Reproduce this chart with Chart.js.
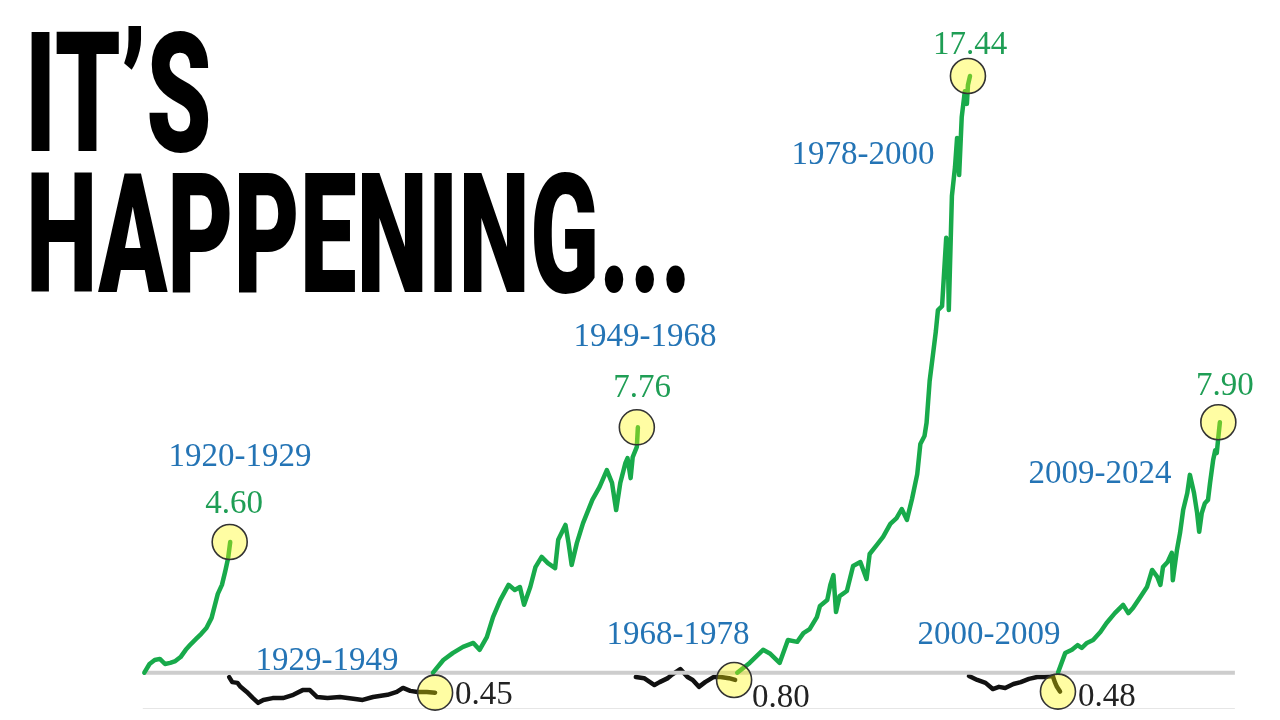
<!DOCTYPE html>
<html><head><meta charset="utf-8">
<script src="https://cdn.jsdelivr.net/npm/chart.js@4.4.1/dist/chart.umd.min.js"></script>
<style>html,body{margin:0;padding:0;background:#fff;}#wrap{width:1280px;height:720px;position:relative;}</style>
</head><body><div id="wrap"><canvas id="c" width="1280" height="720"></canvas></div>
<script>
// ---------- DATA ----------
const titleLines = ["IT\u2019S", "HAPPENING..."];

// 1920-1929 (bull, green)
const bull1Years  = [1920.5,1921.0,1921.5,1922.0,1922.5,1923.0,1923.5,1924.0,1924.5,1925.0,1925.5,1926.0,1926.5,1927.0,1927.3,1927.6,1928.0,1928.3,1928.6,1928.8];
const bull1Values = [1.00,1.24,1.35,1.38,1.24,1.27,1.32,1.43,1.63,1.79,1.93,2.07,2.23,2.51,2.84,3.17,3.42,3.77,4.16,4.60];
// 1929-1949 (bear, black)
const bear1Years  = [1928.7,1929.0,1929.5,1929.8,1930.4,1931.0,1931.5,1932.0,1932.9,1933.9,1934.9,1935.8,1936.5,1937.2,1938.2,1939.4,1940.7,1941.6,1942.6,1944.0,1944.9,1945.5,1946.2,1946.9,1947.8,1948.6];
const bear1Values = [0.88,0.74,0.72,0.61,0.47,0.30,0.17,0.25,0.30,0.30,0.39,0.52,0.52,0.33,0.30,0.33,0.28,0.25,0.33,0.39,0.47,0.58,0.50,0.47,0.47,0.45];
// 1949-1968 (bull, green)
const bull2Years  = [1948.4,1949.4,1950.3,1951.3,1952.3,1952.9,1953.6,1954.2,1954.9,1955.7,1956.3,1956.8,1957.2,1957.8,1958.3,1958.9,1959.5,1960.2,1960.5,1961.2,1961.5,1961.8,1962.3,1962.9,1963.8,1964.5,1965.2,1965.7,1966.1,1966.5,1967.0,1967.2,1967.5,1967.7,1968.1,1968.2];
const bull2Values = [1.00,1.35,1.54,1.71,1.82,1.63,1.98,2.53,3.00,3.42,3.28,3.36,2.87,3.36,3.91,4.19,4.02,3.88,4.66,5.07,4.57,3.97,4.57,5.12,5.76,6.12,6.58,6.23,5.48,6.23,6.78,6.91,6.36,6.94,7.22,7.76];
// 1968-1978 (bear, black)
const bear2Years  = [1968.0,1968.8,1969.8,1970.3,1971.1,1971.5,1972.3,1973.0,1973.5,1974.1,1974.7,1975.5,1976.2,1977.0,1977.6];
const bear2Values = [0.88,0.85,0.66,0.74,0.85,0.95,1.10,0.88,0.80,0.61,0.74,0.88,0.88,0.85,0.80];
// 1978-2000 (bull, green)
const bull3Years  = [1977.8,1979.0,1980.3,1981.0,1981.9,1982.7,1983.6,1984.2,1984.8,1985.5,1985.8,1986.5,1986.8,1987.1,1987.35,1987.7,1988.4,1989.0,1989.7,1990.3,1990.6,1991.3,1991.9,1992.6,1993.2,1993.7,1994.2,1994.7,1995.2,1995.5,1995.9,1996.1,1996.4,1996.7,1997.0,1997.2,1997.6,1997.8,1998.0,1998.15,1998.25,1998.35,1998.55,1998.85,1999.05,1999.25,1999.5,1999.8,2000.0,2000.1,2000.3];
const bull3Values = [1.00,1.27,1.63,1.52,1.27,1.90,1.85,2.09,2.20,2.53,2.84,3.00,3.42,3.69,2.67,3.11,3.25,3.94,4.05,3.58,4.27,4.52,4.74,5.10,5.26,5.51,5.21,5.79,6.47,7.30,7.52,7.88,9.04,9.72,10.41,10.99,11.10,12.04,12.98,12.73,10.99,12.04,14.13,14.93,15.73,14.71,16.31,17.02,16.67,17.19,17.44];
// 2000-2009 (bear, black)
const bear3Years  = [2000.2,2001.0,2001.8,2002.5,2003.1,2003.7,2004.5,2005.2,2006.0,2006.8,2007.5,2008.3,2008.5,2008.7,2009.0];
const bear3Values = [0.91,0.80,0.72,0.55,0.61,0.58,0.69,0.74,0.83,0.88,0.88,0.91,0.74,0.61,0.48];
// 2009-2024 (bull, green)
const bull4Years  = [2008.8,2009.5,2010.15,2010.7,2011.1,2011.6,2012.2,2012.9,2013.5,2014.3,2015.1,2015.6,2016.05,2016.7,2017.4,2017.9,2018.4,2018.7,2018.95,2019.4,2019.8,2019.9,2020.3,2020.6,2020.9,2021.3,2021.55,2021.95,2022.25,2022.45,2022.7,2023.0,2023.3,2023.5,2023.8,2024.0,2024.15,2024.3,2024.45];
const bull4Values = [1.00,1.54,1.63,1.76,1.68,1.82,1.90,2.12,2.37,2.64,2.87,2.64,2.78,3.06,3.36,3.83,3.64,3.42,3.91,4.05,4.30,3.55,4.38,4.85,5.48,5.95,6.45,5.95,5.40,4.88,5.40,5.67,5.76,6.23,6.86,7.13,7.05,7.49,7.90];

// end-of-period markers
const markerYears  = [1928.75,1948.6,1968.1,1977.5,2000.1,2008.8,2024.3];
const markerValues = [4.60,0.45,7.76,0.80,17.44,0.48,7.90];

// reference levels (1 = start of period, 0 = floor)
const refYears = [1920.35, 2025.9];

// period labels
const periodLabels      = ["1920-1929","1929-1949","1949-1968","1968-1978","1978-2000","2000-2009","2009-2024"];
const periodLabelYears  = [1929.75,1938.15,1968.88,1972.08,1989.95,2002.13,2012.86];
const periodLabelLevels = [6.69,1.07,10.0,1.79,15.01,1.79,6.23];

// value labels: peaks (green, centred) and troughs (dark, to the right)
const peakIdx         = [0,2,4,6];
const peakLabelYears  = [1929.17,1968.6,2000.3,2024.94];
const peakLabelLevels = [5.40,8.60,18.04,8.65];
const troughIdx         = [1,3,5];
const troughLabelYears  = [1950.52,1979.23,2010.73];
const troughLabelLevels = [0.14,0.06,0.08];

// ---------- STYLE / LAYOUT ----------
const GREEN = '#18aa4b', BLACK = '#111111', BLUE = '#2474b5', VGREEN = '#1f9e55';
const titleBoxes = [{left:31,right:209,top:31,base:151},{left:31,right:685,top:172,base:292}];
const zip = (xs, ys) => xs.map((x, i) => ({x, y: ys[i]}));

const seg = (label, xs, ys, color, order) => ({
  label, data: zip(xs, ys), borderColor: color, borderWidth: 4.5, pointRadius: 0,
  tension: 0, fill: false, order, borderJoinStyle: 'round', borderCapStyle: 'round'
});

const titlePlugin = {
  id: 'bigTitle',
  beforeDatasetsDraw(chart) {
    const ctx = chart.ctx;
    titleLines.forEach((t, i) => {
      const b = titleBoxes[i];
      ctx.save();
      ctx.font = '900 100px Roboto, "Liberation Sans", sans-serif';
      ctx.textAlign = 'left'; ctx.textBaseline = 'alphabetic';
      const m = ctx.measureText(t);
      const cap = ctx.measureText('H').actualBoundingBoxAscent;
      const w = m.actualBoundingBoxLeft + m.actualBoundingBoxRight;
      const sx = (b.right - b.left) / w, sy = (b.base - b.top) / cap;
      ctx.translate(b.left + m.actualBoundingBoxLeft * sx, b.base);
      ctx.scale(sx, sy);
      ctx.fillStyle = '#000';
      ctx.fillText(t, 0, 0);
      ctx.restore();
    });
  }
};

const labelPlugin = {
  id: 'labels',
  afterDatasetsDraw(chart) {
    const {ctx, scales: {x, y}} = chart;
    ctx.save();
    ctx.font = '33px "Liberation Serif", serif';
    ctx.textBaseline = 'alphabetic';
    ctx.textAlign = 'center';
    ctx.fillStyle = BLUE;
    periodLabels.forEach((t, i) => ctx.fillText(t, x.getPixelForValue(periodLabelYears[i]), y.getPixelForValue(periodLabelLevels[i])));
    ctx.fillStyle = VGREEN;
    peakIdx.forEach((k, i) => ctx.fillText(markerValues[k].toFixed(2), x.getPixelForValue(peakLabelYears[i]), y.getPixelForValue(peakLabelLevels[i])));
    ctx.textAlign = 'left';
    ctx.fillStyle = '#222';
    troughIdx.forEach((k, i) => ctx.fillText(markerValues[k].toFixed(2), x.getPixelForValue(troughLabelYears[i]), y.getPixelForValue(troughLabelLevels[i])));
    ctx.restore();
  }
};

new Chart(document.getElementById('c'), {
  type: 'line',
  data: {
    datasets: [
      { label: 'markers', data: zip(markerYears, markerValues), showLine: false, pointRadius: 17.5,
        pointBackgroundColor: 'rgba(255,250,0,0.36)', pointBorderColor: '#333333', pointBorderWidth: 1.6, order: 0, clip: false },
      seg('1920-1929', bull1Years, bull1Values, GREEN, 1),
      seg('1949-1968', bull2Years, bull2Values, GREEN, 1),
      seg('1978-2000', bull3Years, bull3Values, GREEN, 1),
      seg('2009-2024', bull4Years, bull4Values, GREEN, 1),
      { label: 'start', data: zip(refYears, [1, 1]), borderColor: '#cdcdcd', borderWidth: 4, pointRadius: 0, order: 2 },
      seg('1929-1949', bear1Years, bear1Values, BLACK, 3),
      seg('1968-1978', bear2Years, bear2Values, BLACK, 3),
      seg('2000-2009', bear3Years, bear3Values, BLACK, 3),
      { label: 'floor', data: zip(refYears, [0, 0]), borderColor: '#dedede', borderWidth: 1.5, pointRadius: 0, order: 4 }
    ]
  },
  options: {
    responsive: false, animation: false, devicePixelRatio: 1,
    layout: { autoPadding: false, padding: { top: 0, bottom: 11, left: 0, right: 0 } },
    plugins: { legend: { display: false }, tooltip: { enabled: false }, title: { display: false } },
    scales: {
      x: { type: 'linear', min: 1906.55, max: 2030.26, display: false },
      y: { type: 'linear', min: 0, max: 19.532, display: false }
    }
  },
  plugins: [titlePlugin, labelPlugin]
});
</script></body></html>
